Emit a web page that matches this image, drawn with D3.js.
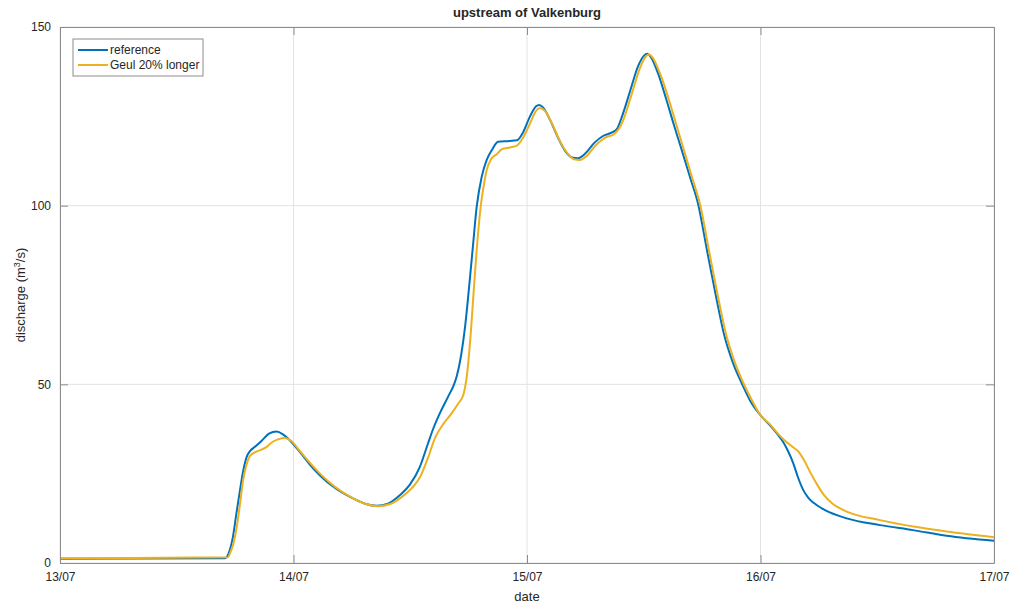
<!DOCTYPE html>
<meta charset="utf-8">
<style>
body { margin: 0; background: #fff; }
svg text { font-family: "Liberation Sans", Arial, sans-serif; fill: #262626; }
.grid line { stroke: #e3e3e3; stroke-width: 1; }
.axis path, .axis line { stroke: #8c8c8c; }
</style>
<svg width="1011" height="605"></svg>
<script src="https://d3js.org/d3.v7.min.js"></script>
<script>

// hours since 13/07 00:00
var refHours = [0, 16.96, 17.37, 17.78, 18.14, 18.5, 18.81, 19.19, 19.53, 20.04, 20.76, 21.48, 22.27, 22.92, 23.64, 24.67, 25.7, 26.72, 28.27, 29.81, 31.35, 32.58, 33.71, 34.95, 35.98, 37.0, 37.83, 38.35, 39.06, 39.88, 40.5, 40.8, 41.22, 41.63, 42.04, 42.42, 42.83, 43.34, 43.86, 44.4, 45.02, 46.25, 46.97, 47.59, 48.31, 48.93, 49.24, 49.65, 50.37, 51.19, 52.01, 52.63, 53.24, 53.96, 54.89, 55.81, 56.74, 57.25, 57.77, 58.59, 59.41, 60.03, 60.34, 60.75, 61.47, 62.29, 63.11, 63.9, 64.75, 65.61, 66.5, 67.5, 68.25, 69.17, 70.07, 70.92, 71.95, 72.98, 73.7, 74.3, 74.8, 75.37, 75.85, 76.4, 76.9, 77.43, 78.63, 80.86, 84.29, 87.68, 91.14, 96];
var refQ = [1.2, 1.3, 3, 7.4, 14, 20.4, 25.5, 29.7, 31.3, 32.5, 34.3, 36.2, 36.8, 36, 34.3, 31, 27.5, 24.5, 21, 18.5, 16.6, 16, 16.6, 19, 22, 27, 33.5, 37.5, 42, 46.5, 50, 52.5, 58, 66, 77, 88, 99.7, 108, 112.8, 115.6, 117.9, 118.1, 118.3, 120.5, 125, 127.8, 128.2, 127.5, 124, 119, 115, 113.5, 113.3, 114.5, 117.5, 119.5, 120.5, 121.5, 125, 132, 139, 142, 142.5, 141.5, 137, 130, 122.5, 115.6, 108, 100.2, 87.5, 73.6, 64, 56, 50.3, 45.5, 41.5, 38.5, 36.2, 34, 31.5, 27.9, 24, 20.4, 18.3, 16.9, 14.8, 12.5, 10.6, 9.2, 7.6, 6.2];

var longHours = [0, 17.27, 17.47, 17.78, 18.16, 18.5, 18.81, 19.17, 19.53, 20.22, 20.76, 21.25, 21.79, 22.41, 23.13, 23.74, 24.67, 25.7, 26.72, 28.27, 29.81, 31.35, 32.69, 33.92, 35.15, 36.18, 37.0, 37.83, 38.55, 39.37, 40.29, 40.9, 41.45, 41.8, 42.21, 42.52, 42.83, 43.24, 43.58, 43.86, 44.3, 44.89, 45.43, 46.25, 46.97, 47.59, 48.31, 48.93, 49.34, 49.85, 50.57, 51.39, 52.21, 52.83, 53.44, 54.16, 55.09, 56.01, 56.94, 57.45, 57.97, 58.79, 59.61, 60.23, 60.54, 60.95, 61.67, 62.49, 63.31, 64.13, 64.95, 65.82, 66.7, 67.7, 68.46, 69.38, 70.25, 71.13, 71.95, 72.98, 73.7, 74.52, 75.24, 75.85, 76.47, 77.09, 77.81, 78.53, 79.35, 80.86, 84.29, 87.71, 91.14, 96];
var longQ = [1.3, 1.6, 2.7, 5, 10, 16.5, 23, 27.5, 30, 31.2, 31.8, 32.5, 33.8, 34.6, 35, 34.2, 31.3, 28, 25, 21.3, 18.6, 16.6, 15.9, 16.5, 18.5, 21, 24, 29.5, 35, 38.8, 42, 44.5, 47, 52, 64, 76, 87.6, 99.7, 106, 110, 113, 114.4, 115.8, 116.3, 116.8, 119, 123, 126.5, 127.3, 126.5, 123, 118, 114.5, 113, 112.8, 114, 117, 119, 120, 121.5, 124.5, 131.5, 138.5, 141.8, 142.3, 141.3, 137, 130.5, 123, 115.6, 108, 100, 87.5, 73.6, 64, 56, 50.3, 45.5, 41.5, 38.8, 36.5, 34.2, 32.6, 31.3, 28.8, 25.5, 22, 19, 16.7, 14.4, 12, 10.2, 8.8, 7.2];

var seriesNames = ["reference", "Geul 20% longer"];
var seriesColors = ["#0072BD", "#EDB120"];
var yTicks = [0, 50, 100, 150];

var svg = d3.select("svg"),
    margin = {top: 27, right: 17, bottom: 42, left: 60},
    width = 1011 - margin.left - margin.right,
    height = 605 - margin.top - margin.bottom;

var start = new Date(2021, 6, 13);
var toDate = function(h) { return new Date(start.getTime() + h * 3600000); };

var x = d3.scaleTime().domain([start, toDate(96)]).range([0, width]);
var y = d3.scaleLinear().domain([0, 150]).range([height, 0]);
var xTicks = d3.timeDay.range(start, toDate(97));

var g = svg.append("g").attr("transform", "translate(" + margin.left + "," + margin.top + ")");

// grid
var grid = g.append("g").attr("class", "grid");
grid.selectAll("line.gx").data(xTicks).enter().append("line")
    .attr("class", "gx")
    .attr("x1", function(d) { return x(d); }).attr("x2", function(d) { return x(d); })
    .attr("y1", 0).attr("y2", height);
grid.selectAll("line.gy").data(yTicks).enter().append("line")
    .attr("class", "gy")
    .attr("x1", 0).attr("x2", width)
    .attr("y1", function(d) { return y(d); }).attr("y2", function(d) { return y(d); });

// lines
var series = [
  {name: seriesNames[0], color: seriesColors[0], pts: refHours.map(function(h, i) { return [toDate(h), refQ[i]]; })},
  {name: seriesNames[1], color: seriesColors[1], pts: longHours.map(function(h, i) { return [toDate(h), longQ[i]]; })}
];
var line = d3.line()
  .x(function(d) { return x(d[0]); })
  .y(function(d) { return y(d[1]); })
  .curve(d3.curveMonotoneX);

g.selectAll("path.series").data(series).enter().append("path")
  .attr("class", "series")
  .attr("fill", "none")
  .attr("stroke", function(d) { return d.color; })
  .attr("stroke-width", 2)
  .attr("d", function(d) { return line(d.pts); });

// axes, MATLAB style ticks pointing inward
var fmt = d3.timeFormat("%d/%m");
g.append("g").attr("class", "axis")
  .attr("transform", "translate(0," + height + ")")
  .call(d3.axisBottom(x).tickValues(xTicks).tickFormat(fmt).tickSizeInner(-8).tickSizeOuter(0).tickPadding(9))
  .selectAll("text").attr("font-size", 12);
g.append("g").attr("class", "axis")
  .call(d3.axisTop(x).tickValues(xTicks).tickFormat("").tickSizeInner(-8).tickSizeOuter(0));
g.append("g").attr("class", "axis")
  .call(d3.axisLeft(y).tickValues(yTicks).tickSizeInner(-8).tickSizeOuter(0).tickPadding(9))
  .selectAll("text").attr("font-size", 12);
g.append("g").attr("class", "axis")
  .attr("transform", "translate(" + width + ",0)")
  .call(d3.axisRight(y).tickValues(yTicks).tickFormat("").tickSizeInner(-8).tickSizeOuter(0));
g.selectAll(".axis text").style("fill", "#262626");
g.selectAll(".axis .domain").attr("stroke", "#8c8c8c");

// labels
svg.append("text")
  .attr("x", margin.left + width / 2).attr("y", 17)
  .attr("text-anchor", "middle").attr("font-size", 13).attr("font-weight", "bold")
  .text("upstream of Valkenburg");
svg.append("text")
  .attr("x", margin.left + width / 2).attr("y", 601)
  .attr("text-anchor", "middle").attr("font-size", 13)
  .text("date");
var yl = svg.append("text")
  .attr("transform", "translate(25," + (margin.top + height / 2) + ") rotate(-90)")
  .attr("text-anchor", "middle").attr("font-size", 13);
yl.append("tspan").text("discharge (m");
yl.append("tspan").attr("font-size", 9).attr("dy", -5).text("3");
yl.append("tspan").attr("dy", 5).text("/s)");

// legend
var lg = g.append("g").attr("transform", "translate(13,12)");
lg.append("rect").attr("width", 130).attr("height", 37)
  .attr("fill", "#fff").attr("stroke", "#8c8c8c").attr("stroke-width", 1);
var items = lg.selectAll("g.item").data(series).enter().append("g")
  .attr("transform", function(d, i) { return "translate(5," + (11 + i * 15) + ")"; });
items.append("line").attr("x1", 0).attr("x2", 30).attr("y1", 0).attr("y2", 0)
  .attr("stroke", function(d) { return d.color; }).attr("stroke-width", 2);
items.append("text").attr("x", 32).attr("y", 4).attr("font-size", 12)
  .text(function(d) { return d.name; });

</script>
